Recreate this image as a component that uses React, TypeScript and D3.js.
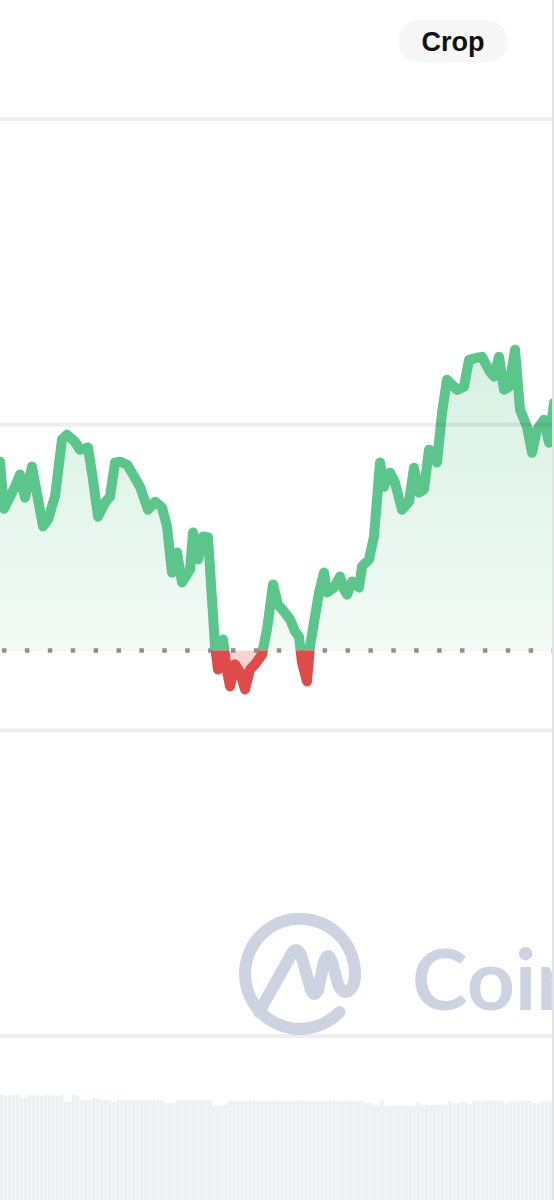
import React from "react";
import * as d3 from "d3";

// time (minutes) of each sample and the price at that time
const times = [
  0, 8, 30, 40, 50, 64, 86, 96, 110, 124, 134, 150, 160, 176, 186, 196, 210, 220, 230, 240,
  254, 266, 280, 296, 310, 324, 334, 344, 354, 364, 380, 386, 396, 406, 416, 424, 430, 436, 446, 454,
  460, 470, 480, 490, 500, 510, 524, 534, 546, 556, 568, 580, 590, 598, 604, 614, 620, 628, 638, 648,
  654, 668, 680, 688, 694, 704, 718, 724, 738, 748, 754, 760, 768, 780, 790, 804, 818, 828, 838, 848,
  858, 864, 874, 884, 894, 914, 928, 938, 954, 964, 980, 988, 998, 1008, 1018, 1030, 1040, 1054, 1064, 1074,
  1088, 1098, 1108,
];
const prices = [
  187.9, 172.5, 179.7, 183.7, 176.1, 186.3, 166.7, 169.0, 176.5, 195.1, 196.7, 194.4, 191.8, 192.5, 182.0, 169.9, 174.5, 176.5, 187.6, 187.9,
  186.9, 183.7, 179.7, 172.2, 174.8, 172.9, 166.7, 151.6, 158.2, 148.4, 152.6, 164.7, 155.9, 163.4, 163.1, 142.8, 127.5, 119.9, 129.7, 119.3,
  114.4, 121.6, 119.0, 113.4, 119.9, 121.6, 124.8, 133.0, 147.7, 141.2, 138.9, 136.3, 132.4, 130.7, 122.2, 116.0, 127.5, 135.3, 145.1, 151.6,
  145.1, 146.7, 150.3, 146.1, 144.4, 148.7, 146.7, 153.6, 155.9, 163.4, 175.5, 187.6, 179.7, 184.3, 181.0, 172.2, 174.8, 185.9, 177.8, 178.8,
  191.8, 191.2, 187.6, 203.9, 214.7, 211.4, 212.4, 221.2, 221.9, 222.2, 217.3, 215.7, 222.2, 211.4, 212.4, 224.5, 204.9, 199.3, 190.8, 198.4,
  201.6, 194.1, 207.2,
];
const baselinePrice = 126.1;
const gridTicks = [0, 100, 200, 300];

const volumes = [
  98.4, 98.2, 98.4, 98.3, 98.4, 97.4, 97.5, 98.4, 98.3, 98.4, 98.2, 98.4, 98.3, 98.4, 98.2, 98.4, 96.1, 96.3, 98.4, 98.0,
  96.8, 96.9, 96.7, 97.4, 97.3, 96.8, 96.9, 96.7, 96.1, 96.8, 96.9, 96.8, 96.7, 96.8, 96.9, 96.8, 96.8, 96.7, 96.8, 96.9,
  96.8, 95.8, 95.9, 95.8, 96.8, 96.7, 96.8, 96.8, 96.7, 96.8, 96.9, 96.8, 96.7, 95.2, 95.1, 95.2, 95.3, 96.5, 96.5, 96.4,
  96.5, 96.4, 96.5, 96.6, 96.5, 96.4, 96.5, 96.5, 96.6, 96.5, 96.4, 96.5, 96.5, 96.4, 96.5, 96.6, 96.5, 96.4, 96.5, 96.5,
  96.4, 96.5, 96.6, 96.5, 96.4, 96.5, 96.5, 96.6, 96.5, 96.4, 96.5, 95.8, 95.8, 95.2, 95.2, 96.5, 94.8, 94.8, 94.9, 94.8,
  94.8, 94.9, 94.8, 94.8, 96.1, 95.2, 95.2, 95.1, 95.2, 95.2, 95.2, 95.3, 96.5, 95.8, 95.8, 96.1, 96.1, 95.5, 96.5, 96.5,
  96.4, 96.5, 96.5, 96.6, 96.5, 96.5, 95.8, 96.5, 96.5, 96.4, 96.5, 96.5, 96.5, 95.8, 95.8, 96.5, 96.5, 96.4, 96.5,
];

const W = 554;
const H = 1200;
const GREEN = "#5bc58b";
const RED = "#df4a4a";
const MARK = "#cdd3e1";

export default function App() {
  const x = d3.scaleLinear().domain([0, 1108]).range([0, W]);
  const y = d3.scaleLinear().domain([0, 300]).range([1036, 119]);
  const by = y(baselinePrice);

  const line = d3
    .line<number>()
    .x((_, i) => x(times[i]))
    .y((d) => y(d))
    .curve(d3.curveLinear);
  const area = d3
    .area<number>()
    .x((_, i) => x(times[i]))
    .y0(by)
    .y1((d) => y(d))
    .curve(d3.curveLinear);

  const vx = d3
    .scaleBand<number>()
    .domain(d3.range(volumes.length))
    .range([0, W + 2])
    .paddingInner(0.12)
    .paddingOuter(0);
  const vy = d3.scaleLinear().domain([0, 100]).range([1400, 1090]);

  const maxP = d3.max(prices) as number;

  return (
    <svg
      width={W}
      height={H}
      viewBox={`0 0 ${W} ${H}`}
      style={{ position: "absolute", left: 0, top: 0, display: "block", background: "#fff" }}
    >
      <defs>
        <linearGradient id="gGreen" gradientUnits="userSpaceOnUse" x1={0} y1={y(maxP)} x2={0} y2={by}>
          <stop offset="0" stopColor={GREEN} stopOpacity={0.25} />
          <stop offset="1" stopColor={GREEN} stopOpacity={0.07} />
        </linearGradient>
        <clipPath id="above">
          <rect x={0} y={0} width={W} height={by} />
        </clipPath>
        <clipPath id="below">
          <rect x={0} y={by} width={W} height={H - by} />
        </clipPath>
      </defs>
      <rect x={0} y={0} width={W} height={H} fill="#fff" />

      {/* volume bars */}
      <g>
        {volumes.map((v, i) => (
          <rect
            key={i}
            x={vx(i) as number}
            y={vy(v)}
            width={vx.bandwidth()}
            height={H - vy(v)}
            fill="#eef0f4"
          />
        ))}
      </g>

      {/* watermark */}
      <g fill="none" stroke={MARK} strokeWidth={12} strokeLinecap="round" strokeLinejoin="round">
        <path d="M 259 1012 L 291 955 Q 296 945 301 955 L 311 990 Q 314 998 318 990 L 324 962 Q 328 950 332 962 L 338 984 Q 343 996 350 990 Q 354 986 354.8 978.8 A 55 55 0 1 0 339.6 1012" />
      </g>
      <text
        x={412}
        y={1010}
        fontFamily="Lato, 'Noto Sans', sans-serif"
        fontWeight={700}
        fontSize={84}
        fill={MARK}
      >
        Coin
      </text>

      {/* areas */}
      <path d={area(prices) || ""} fill="url(#gGreen)" clipPath="url(#above)" />
      <path d={area(prices) || ""} fill={RED} fillOpacity={0.24} clipPath="url(#below)" />

      {/* baseline */}
      <line x1={2} x2={W} y1={by} y2={by} stroke="#8f8f8f" strokeWidth={4.5} strokeDasharray="4.5 18.4" />

      {/* price line */}
      <path
        d={line(prices) || ""}
        fill="none"
        stroke={GREEN}
        strokeWidth={10}
        strokeLinejoin="round"
        strokeLinecap="round"
        clipPath="url(#above)"
      />
      <path
        d={line(prices) || ""}
        fill="none"
        stroke={RED}
        strokeWidth={10}
        strokeLinejoin="round"
        strokeLinecap="round"
        clipPath="url(#below)"
      />

      {/* grid */}
      {gridTicks.map((t) => (
        <line key={t} x1={0} x2={W} y1={y(t)} y2={y(t)} stroke="#000" strokeOpacity={0.065} strokeWidth={4} />
      ))}

      {/* crop button */}
      <rect x={398} y={20} width={110} height={42} rx={21} fill="#f7f7f7" />
      <text
        x={453}
        y={51}
        textAnchor="middle"
        fontFamily="'Liberation Sans', Arial, sans-serif"
        fontWeight={700}
        fontSize={27}
        fill="#111"
      >
        Crop
      </text>

      {/* right edge */}
      <line x1={553} x2={553} y1={0} y2={H} stroke="#e4e4e4" strokeWidth={2} />
    </svg>
  );
}
